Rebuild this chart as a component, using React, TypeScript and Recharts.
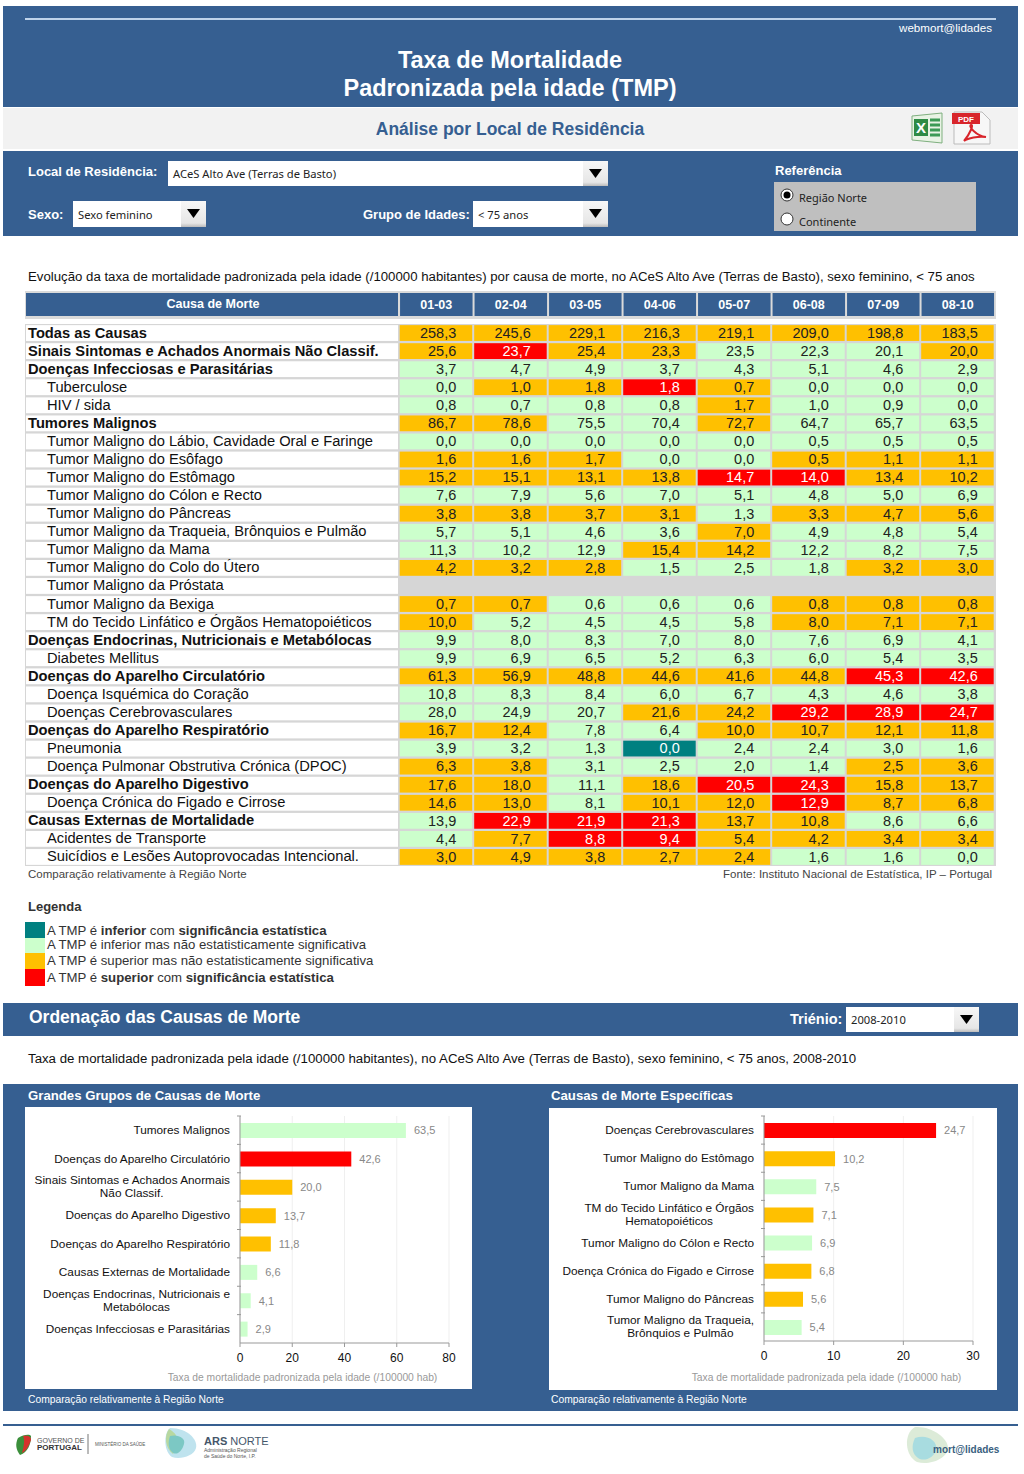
import React from "react";
import {
  BarChart,
  Bar,
  Cell,
  LabelList,
  CartesianGrid,
  ScatterChart,
  Scatter,
  XAxis,
  YAxis,
} from "recharts";

const periods = ["01-03", "02-04", "03-05", "04-06", "05-07", "06-08", "07-09", "08-10"];

const causes = [
  "Todas as Causas",
  "Sinais Sintomas e Achados Anormais Não Classif.",
  "Doenças Infecciosas e Parasitárias",
  "Tuberculose",
  "HIV / sida",
  "Tumores Malignos",
  "Tumor Maligno do Lábio, Cavidade Oral e Faringe",
  "Tumor Maligno do Esôfago",
  "Tumor Maligno do Estômago",
  "Tumor Maligno do Cólon e Recto",
  "Tumor Maligno do Pâncreas",
  "Tumor Maligno da Traqueia, Brônquios e Pulmão",
  "Tumor Maligno da Mama",
  "Tumor Maligno do Colo do Útero",
  "Tumor Maligno da Próstata",
  "Tumor Maligno da Bexiga",
  "TM do Tecido Linfático e Órgãos Hematopoiéticos",
  "Doenças Endocrinas, Nutricionais e Metabólocas",
  "Diabetes Mellitus",
  "Doenças do Aparelho Circulatório",
  "Doença Isquémica do Coração",
  "Doenças Cerebrovasculares",
  "Doenças do Aparelho Respiratório",
  "Pneumonia",
  "Doença Pulmonar Obstrutiva Crónica (DPOC)",
  "Doenças do Aparelho Digestivo",
  "Doença Crónica do Figado e Cirrose",
  "Causas Externas de Mortalidade",
  "Acidentes de Transporte",
  "Suicídios e Lesões Autoprovocadas Intencional.",
];

const groupRows = [0, 1, 2, 5, 17, 19, 22, 25, 27];

const rates: (number[] | null)[] = [
  [258.3, 245.6, 229.1, 216.3, 219.1, 209.0, 198.8, 183.5],
  [25.6, 23.7, 25.4, 23.3, 23.5, 22.3, 20.1, 20.0],
  [3.7, 4.7, 4.9, 3.7, 4.3, 5.1, 4.6, 2.9],
  [0.0, 1.0, 1.8, 1.8, 0.7, 0.0, 0.0, 0.0],
  [0.8, 0.7, 0.8, 0.8, 1.7, 1.0, 0.9, 0.0],
  [86.7, 78.6, 75.5, 70.4, 72.7, 64.7, 65.7, 63.5],
  [0.0, 0.0, 0.0, 0.0, 0.0, 0.5, 0.5, 0.5],
  [1.6, 1.6, 1.7, 0.0, 0.0, 0.5, 1.1, 1.1],
  [15.2, 15.1, 13.1, 13.8, 14.7, 14.0, 13.4, 10.2],
  [7.6, 7.9, 5.6, 7.0, 5.1, 4.8, 5.0, 6.9],
  [3.8, 3.8, 3.7, 3.1, 1.3, 3.3, 4.7, 5.6],
  [5.7, 5.1, 4.6, 3.6, 7.0, 4.9, 4.8, 5.4],
  [11.3, 10.2, 12.9, 15.4, 14.2, 12.2, 8.2, 7.5],
  [4.2, 3.2, 2.8, 1.5, 2.5, 1.8, 3.2, 3.0],
  null,
  [0.7, 0.7, 0.6, 0.6, 0.6, 0.8, 0.8, 0.8],
  [10.0, 5.2, 4.5, 4.5, 5.8, 8.0, 7.1, 7.1],
  [9.9, 8.0, 8.3, 7.0, 8.0, 7.6, 6.9, 4.1],
  [9.9, 6.9, 6.5, 5.2, 6.3, 6.0, 5.4, 3.5],
  [61.3, 56.9, 48.8, 44.6, 41.6, 44.8, 45.3, 42.6],
  [10.8, 8.3, 8.4, 6.0, 6.7, 4.3, 4.6, 3.8],
  [28.0, 24.9, 20.7, 21.6, 24.2, 29.2, 28.9, 24.7],
  [16.7, 12.4, 7.8, 6.4, 10.0, 10.7, 12.1, 11.8],
  [3.9, 3.2, 1.3, 0.0, 2.4, 2.4, 3.0, 1.6],
  [6.3, 3.8, 3.1, 2.5, 2.0, 1.4, 2.5, 3.6],
  [17.6, 18.0, 11.1, 18.6, 20.5, 24.3, 15.8, 13.7],
  [14.6, 13.0, 8.1, 10.1, 12.0, 12.9, 8.7, 6.8],
  [13.9, 22.9, 21.9, 21.3, 13.7, 10.8, 8.6, 6.6],
  [4.4, 7.7, 8.8, 9.4, 5.4, 4.2, 3.4, 3.4],
  [3.0, 4.9, 3.8, 2.7, 2.4, 1.6, 1.6, 0.0],
];

// T = inferior sig., G = inferior, O = superior, R = superior sig.
const levels = [
  "OOOOOOOO",
  "OROOGGGO",
  "GGGGGGGG",
  "GOOROGGG",
  "GGGGOGGG",
  "OOGGOGGG",
  "GGGGGGGG",
  "OOOGGOOO",
  "OOOORROO",
  "GGGGGGGG",
  "OOOOGOOO",
  "GGGGOGGG",
  "GGGOOGGG",
  "OOOGGGOO",
  "",
  "OOGGGOOO",
  "OGGGGOOO",
  "GGGGGGGG",
  "GGGGGGGG",
  "OOOOOORR",
  "GGGGGGGG",
  "GGGOORRR",
  "OOGGOOOO",
  "GGGTGGGG",
  "OOGGGGOO",
  "OOGORROO",
  "OOGOOROO",
  "GRRROOGG",
  "GORROOOO",
  "OOOOOGGG",
];

const levelColors: Record<string, string> = {
  T: "#008080",
  G: "#CCFFCC",
  O: "#FFC000",
  R: "#FF0000",
};

const groupNames = [
  "Tumores Malignos",
  "Doenças do Aparelho Circulatório",
  "Sinais Sintomas e Achados Anormais\nNão Classif.",
  "Doenças do Aparelho Digestivo",
  "Doenças do Aparelho Respiratório",
  "Causas Externas de Mortalidade",
  "Doenças Endocrinas, Nutricionais e\nMetabólocas",
  "Doenças Infecciosas e Parasitárias",
];
const groupValues = [63.5, 42.6, 20.0, 13.7, 11.8, 6.6, 4.1, 2.9];
const groupLevels = "GROOOGGG";

const specificNames = [
  "Doenças Cerebrovasculares",
  "Tumor Maligno do Estômago",
  "Tumor Maligno da Mama",
  "TM do Tecido Linfático e Órgãos\nHematopoiéticos",
  "Tumor Maligno do Cólon e Recto",
  "Doença Crónica do Figado e Cirrose",
  "Tumor Maligno do Pâncreas",
  "Tumor Maligno da Traqueia,\nBrônquios e Pulmão",
];
const specificValues = [24.7, 10.2, 7.5, 7.1, 6.9, 6.8, 5.6, 5.4];
const specificLevels = "ROGOGOOG";

const BLUE = "#365F91";
const FONT = '"Liberation Sans", Arial, sans-serif';
const UI_FONT = '"Noto Sans", sans-serif';

const comma = (v: number) => v.toFixed(1).replace(".", ",");

const heatCells = rates.flatMap((row, r) =>
  row
    ? row.map((value, c) => ({ col: c + 0.5, row: r + 0.5, value, level: levels[r][c] }))
    : [],
);

function HeatCell(props: any) {
  const { cx, cy, payload } = props;
  const w = 72.5;
  const h = 15.8;
  const light = payload.level === "R" || payload.level === "T";
  return (
    <g>
      <rect x={cx - w / 2 - 0.3} y={cy - h / 2} width={w} height={h} fill={levelColors[payload.level]} />
      <text
        x={cx + 20}
        y={cy + 4.8}
        textAnchor="end"
        fontFamily={FONT}
        fontSize={14.5}
        fill={light ? "#fff" : "#222"}
      >
        {comma(payload.value)}
      </text>
    </g>
  );
}

function RowLabel(props: any) {
  const { y, payload } = props;
  const r = Math.floor(payload.value);
  const bold = groupRows.includes(r);
  return (
    <g>
      <rect x={26} y={y - 7.9} width={372} height={15.8} fill="#fff" />
      <text
        x={bold ? 28 : 47}
        y={y + 4.5}
        fontFamily={FONT}
        fontSize={14.7}
        fontWeight={bold ? 700 : 400}
        fill="#111"
      >
        {causes[r]}
      </text>
    </g>
  );
}

function PeriodHead(props: any) {
  const { x, payload } = props;
  return (
    <g>
      <rect x={x - 36.2} y={3} width={72.5} height={23} fill={BLUE} />
      <text x={x} y={19} textAnchor="middle" fontFamily={FONT} fontSize={12.5} fontWeight={700} fill="#fff">
        {periods[Math.floor(payload.value)]}
      </text>
    </g>
  );
}

let measureCtx: CanvasRenderingContext2D | null = null;
function lineWidth(s: string) {
  if (!measureCtx) measureCtx = document.createElement("canvas").getContext("2d");
  measureCtx!.font = `11.8px ${FONT}`;
  return measureCtx!.measureText(s).width;
}

function CauseTick(props: any) {
  const { x, y, payload, band } = props;
  const lines = String(payload.value).split("\n");
  const right = x - 2;
  const common = { fontFamily: FONT, fontSize: 11.8, fill: "#111" };
  return (
    <g>
      <line x1={x + 5} x2={x + 9} y1={y - band / 2} y2={y - band / 2} stroke="#999" />
      {lines.length === 1 ? (
        <text x={right} y={y + 4} textAnchor="end" {...common}>
          {lines[0]}
        </text>
      ) : (
        <>
          <text x={right} y={y - 2.5} textAnchor="end" {...common}>
            {lines[0]}
          </text>
          <text x={right - lineWidth(lines[0]) / 2} y={y + 10.5} textAnchor="middle" {...common}>
            {lines[1]}
          </text>
        </>
      )}
    </g>
  );
}

function RankChart({
  names,
  values,
  codes,
  max,
  ticks,
  top,
  plotH,
  titleDy,
}: {
  names: string[];
  values: number[];
  codes: string;
  max: number;
  ticks: number[];
  top: number;
  plotH: number;
  titleDy: number;
}) {
  const data = names.map((name, i) => ({ name, value: values[i] }));
  return (
    <BarChart
      width={447}
      height={282}
      layout="vertical"
      data={data}
      margin={{ top, right: 23, bottom: 282 - top - plotH - 46, left: 0 }}
      barCategoryGap={0}
    >
      <CartesianGrid horizontal={false} stroke="#EFEFEF" />
      <XAxis
        type="number"
        domain={[0, max]}
        ticks={ticks}
        interval={0}
        height={46}
        stroke="#999"
        tickSize={4}
        tickMargin={6}
        tick={{ fill: "#111", fontFamily: FONT, fontSize: 12 }}
        label={{
          value: "Taxa de mortalidade padronizada pela idade (/100000 hab)",
          position: "insideBottom",
          dx: -42,
          dy: titleDy,
          fill: "#999",
          fontFamily: FONT,
          fontSize: 10.3,
        }}
      />
      <YAxis
        type="category"
        dataKey="name"
        width={215}
        interval={0}
        stroke="#999"
        tickLine={false}
        tick={<CauseTick band={plotH / 8} />}
      />
      <Bar dataKey="value" barSize={15} isAnimationActive={false}>
        {data.map((_, i) => (
          <Cell key={i} fill={levelColors[codes[i]]} />
        ))}
        <LabelList
          dataKey="value"
          position="right"
          offset={8}
          formatter={(v: any) => comma(Number(v))}
          style={{ fill: "#888", fontFamily: FONT, fontSize: 11 }}
        />
      </Bar>
    </BarChart>
  );
}

function Txt({
  x,
  y,
  size = 13,
  bold,
  color = "#111",
  right,
  center,
  font = FONT,
  children,
}: {
  x: number;
  y: number;
  size?: number;
  bold?: boolean;
  color?: string;
  right?: boolean;
  center?: boolean;
  font?: string;
  children: React.ReactNode;
}) {
  const shift = right ? "translateX(-100%)" : center ? "translateX(-50%)" : undefined;
  return (
    <div
      style={{
        position: "absolute",
        left: x,
        top: y - size,
        lineHeight: `${size * 2}px`,
        fontSize: size,
        fontWeight: bold ? 700 : 400,
        fontFamily: font,
        color,
        whiteSpace: "nowrap",
        transform: shift,
      }}
    >
      {children}
    </div>
  );
}

function Box({ x, y, w, h, bg }: { x: number; y: number; w: number; h: number; bg: string }) {
  return <div style={{ position: "absolute", left: x, top: y, width: w, height: h, background: bg }} />;
}

function Select({ x, y, w, h, text }: { x: number; y: number; w: number; h: number; text: string }) {
  return (
    <>
      <Box x={x} y={y} w={w} h={h} bg="#fff" />
      <div
        style={{
          position: "absolute",
          left: x + w - 25,
          top: y,
          width: 25,
          height: h,
          background: "linear-gradient(#f7f7f7, #e6e6e6 85%, #bbb)",
        }}
      />
      <svg style={{ position: "absolute", left: x + w - 20, top: y + h / 2 - 6 }} width={15} height={11}>
        <path d="M1 1H14L7.5 10Z" fill="#000" />
      </svg>
      <Txt x={x + 5} y={y + h / 2 + 1} size={11.2} font={UI_FONT} color="#222">
        {text}
      </Txt>
    </>
  );
}

function Radio({ y, on }: { y: number; on?: boolean }) {
  return (
    <svg style={{ position: "absolute", left: 780, top: y - 7 }} width={14} height={14}>
      <circle cx={7} cy={7} r={6} fill="#fff" stroke="#333" />
      {on && <circle cx={7} cy={7} r={3.5} fill="#000" />}
    </svg>
  );
}

const legendItems: [string, React.ReactNode, number][] = [
  ["T", <>A TMP é <b>inferior</b> com <b>significância estatística</b></>, 931],
  ["G", <>A TMP é inferior mas não estatisticamente significativa</>, 945],
  ["O", <>A TMP é superior mas não estatisticamente significativa</>, 961],
  ["R", <>A TMP é <b>superior</b> com <b>significância estatística</b></>, 978],
];

export default function App() {
  return (
    <div
      style={{
        position: "absolute",
        left: 0,
        top: 0,
        width: 1024,
        height: 1474,
        background: "#fff",
        overflow: "hidden",
      }}
    >
      {/* page header */}
      <Box x={3} y={6} w={1015} h={101} bg={BLUE} />
      <Box x={25} y={18} w={971} h={1.5} bg="#BFD3EA" />
      <Txt x={992} y={28} size={11.6} color="#fff" right>
        webmort@lidades
      </Txt>
      <Txt x={510} y={60} size={23.5} bold color="#fff" center>
        Taxa de Mortalidade
      </Txt>
      <Txt x={510} y={88} size={23.5} bold color="#fff" center>
        Padronizada pela idade (TMP)
      </Txt>
      <Box x={3} y={108} w={1015} h={41} bg="#F2F2F2" />
      <Txt x={510} y={129} size={17.5} bold color={BLUE} center>
        Análise por Local de Residência
      </Txt>
      <svg style={{ position: "absolute", left: 908, top: 110 }} width={86} height={36}>
        <path d="M4 6L34 3V33L4 30Z" fill="#E8F3E4" stroke="#7FAF7F" />
        <path d="M6 9H20V26H6Z" fill="#2E8B45" />
        <text x={8} y={23} fontFamily={FONT} fontWeight={700} fontSize={15} fill="#fff">
          X
        </text>
        <path d="M22 10H32M22 15H32M22 20H32M22 25H32" stroke="#3C9A55" strokeWidth={3} />
        <path d="M46 2H74L82 10V34H46Z" fill="#F7F7F7" stroke="#BBB" />
        <path d="M44 3H72V14H44Z" fill="#D8252B" />
        <text x={50} y={12} fontFamily={FONT} fontWeight={700} fontSize={8} fill="#fff">
          PDF
        </text>
        <path d="M56 31C62 24 66 14 63 15C60 16 68 26 78 27C70 26 60 28 56 31Z" fill="none" stroke="#D8252B" strokeWidth={2} />
      </svg>

      {/* filters */}
      <Box x={3} y={151} w={1015} h={85} bg={BLUE} />
      <Txt x={28} y={172} bold color="#fff">
        Local de Residência:
      </Txt>
      <Select x={168} y={161} w={440} h={25} text="ACeS Alto Ave (Terras de Basto)" />
      <Txt x={28} y={215} bold color="#fff">
        Sexo:
      </Txt>
      <Select x={73} y={201} w={133} h={26} text="Sexo feminino" />
      <Txt x={363} y={215} bold color="#fff">
        Grupo de Idades:
      </Txt>
      <Select x={473} y={201} w={135} h={26} text="< 75 anos" />
      <Txt x={775} y={171} bold color="#fff">
        Referência
      </Txt>
      <Box x={774} y={182} w={202} h={49} bg="#BFBFBF" />
      <Radio y={195} on />
      <Radio y={219} />
      <Txt x={799} y={198} size={11} font={UI_FONT} color="#222">
        Região Norte
      </Txt>
      <Txt x={799} y={222} size={11} font={UI_FONT} color="#222">
        Continente
      </Txt>

      <Txt x={28} y={277} size={13.22}>
        Evolução da taxa de mortalidade padronizada pela idade (/100000 habitantes) por causa de morte, no ACeS Alto Ave (Terras de Basto), sexo feminino, &lt; 75 anos
      </Txt>

      {/* heat table */}
      <Box x={25} y={291} w={971} h={28} bg="#DADADA" />
      <Box x={26} y={293} w={372} h={23} bg={BLUE} />
      <Txt x={213} y={304} size={12.5} bold color="#fff" center>
        Causa de Morte
      </Txt>
      <Box x={25} y={324} w={971} h={542} bg="#D6D6D6" />
      <div style={{ position: "absolute", left: 0, top: 290 }}>
        <ScatterChart width={1024} height={576} margin={{ top: 0, right: 29, bottom: 0, left: 0 }}>
          <XAxis
            type="number"
            dataKey="col"
            orientation="top"
            domain={[0, 8]}
            ticks={periods.map((_, i) => i + 0.5)}
            interval={0}
            height={34}
            axisLine={false}
            tickLine={false}
            tick={<PeriodHead />}
          />
          <YAxis
            type="number"
            dataKey="row"
            domain={[0, causes.length]}
            reversed
            ticks={causes.map((_, i) => i + 0.5)}
            interval={0}
            width={399}
            axisLine={false}
            tickLine={false}
            tick={<RowLabel />}
          />
          <Scatter data={heatCells} shape={<HeatCell />} isAnimationActive={false} />
        </ScatterChart>
      </div>
      <Txt x={28} y={874.5} size={11.5} color="#444">
        Comparação relativamente à Região Norte
      </Txt>
      <Txt x={992} y={874.5} size={11.5} color="#444" right>
        Fonte: Instituto Nacional de Estatística, IP – Portugal
      </Txt>

      {/* legend */}
      <Txt x={28} y={907} bold color="#333">
        Legenda
      </Txt>
      <Box x={25} y={922} w={20} h={15.5} bg={levelColors.T} />
      <Box x={25} y={937.5} w={20} h={15.5} bg={levelColors.G} />
      <Box x={25} y={953} w={20} h={16} bg={levelColors.O} />
      <Box x={25} y={969} w={20} h={16.5} bg={levelColors.R} />
      {legendItems.map(([code, body, y]) => (
        <Txt key={code} x={47} y={y} size={13.2} color="#333">
          {body}
        </Txt>
      ))}

      {/* ranking section */}
      <Box x={3} y={1003} w={1015} h={33} bg={BLUE} />
      <Txt x={29} y={1017} size={17.5} bold color="#fff">
        Ordenação das Causas de Morte
      </Txt>
      <Txt x={790} y={1019} size={14.5} bold color="#fff">
        Triénio:
      </Txt>
      <Select x={846} y={1007} w={133} h={25} text="2008-2010" />
      <Txt x={28} y={1059} size={13.25}>
        Taxa de mortalidade padronizada pela idade (/100000 habitantes), no ACeS Alto Ave (Terras de Basto), sexo feminino, &lt; 75 anos, 2008-2010
      </Txt>

      <Box x={3} y={1084} w={1015} h={327} bg={BLUE} />
      <Txt x={28} y={1096} size={13.2} bold color="#fff">
        Grandes Grupos de Causas de Morte
      </Txt>
      <Txt x={551} y={1096} size={13.2} bold color="#fff">
        Causas de Morte Específicas
      </Txt>
      <Box x={25} y={1107} w={447} h={282} bg="#fff" />
      <Box x={549} y={1108} w={448} h={282} bg="#fff" />
      <div style={{ position: "absolute", left: 25, top: 1107 }}>
        <RankChart
          names={groupNames}
          values={groupValues}
          codes={groupLevels}
          max={80}
          ticks={[0, 20, 40, 60, 80]}
          top={9}
          plotH={227}
          titleDy={-3}
        />
      </div>
      <div style={{ position: "absolute", left: 549, top: 1108 }}>
        <RankChart
          names={specificNames}
          values={specificValues}
          codes={specificLevels}
          max={30}
          ticks={[0, 10, 20, 30]}
          top={8}
          plotH={225}
          titleDy={-1}
        />
      </div>
      <Txt x={28} y={1400} size={10.3} color="#fff">
        Comparação relativamente à Região Norte
      </Txt>
      <Txt x={551} y={1400} size={10.3} color="#fff">
        Comparação relativamente à Região Norte
      </Txt>

      {/* footer */}
      <Box x={3} y={1424} w={1015} h={2} bg={BLUE} />
      <svg style={{ position: "absolute", left: 0, top: 1426 }} width={1024} height={48}>
        <path d="M18 12C24 8 30 8 31 10C31 18 28 26 20 29C16 24 15 18 18 12Z" fill="#3B8F3B" />
        <path d="M23 10C29 9 31 11 31 14C28 22 26 25 22 27C24 20 25 14 23 10Z" fill="#D4322C" />
        <text x={37} y={17} fontFamily={FONT} fontSize={7} fill="#555">
          GOVERNO DE
        </text>
        <text x={37} y={24} fontFamily={FONT} fontSize={8} fontWeight={700} fill="#333">
          PORTUGAL
        </text>
        <line x1={88} x2={88} y1={8} y2={28} stroke="#777" />
        <text x={95} y={20} fontFamily={FONT} fontSize={4.5} fill="#555">
          MINISTÉRIO DA SAÚDE
        </text>
        <path d="M170 2C188 2 198 14 196 22C194 30 180 34 172 31C164 26 163 8 170 2Z" fill="#BFE3EE" />
        <path d="M169 3C178 8 181 16 173 28C165 22 164 10 169 3Z" fill="#B8D8A0" />
        <path d="M170 10C178 8 186 12 184 18C182 26 176 30 172 26C168 22 168 16 170 10Z" fill="#7CC8C4" />
        <text x={204} y={19} fontFamily={FONT} fontSize={11} fill="#45566A">
          <tspan fontWeight={700}>ARS</tspan> NORTE
        </text>
        <text x={204} y={26} fontFamily={FONT} fontSize={5} fill="#555">
          Administração Regional
        </text>
        <text x={204} y={32} fontFamily={FONT} fontSize={5} fill="#555">
          de Saúde do Norte, I.P.
        </text>
        <path d="M915 1C932 0 948 12 948 22C948 32 930 40 917 36C905 30 903 8 915 1Z" fill="#DCEBD8" />
        <path d="M915 12C926 8 938 14 936 24C934 32 924 36 918 32C912 28 911 20 915 12Z" fill="#A8DCE0" />
        <text x={933} y={27} fontFamily={FONT} fontSize={10} fontWeight={700} fill="#3A5F80">
          mort@lidades
        </text>
      </svg>
    </div>
  );
}
